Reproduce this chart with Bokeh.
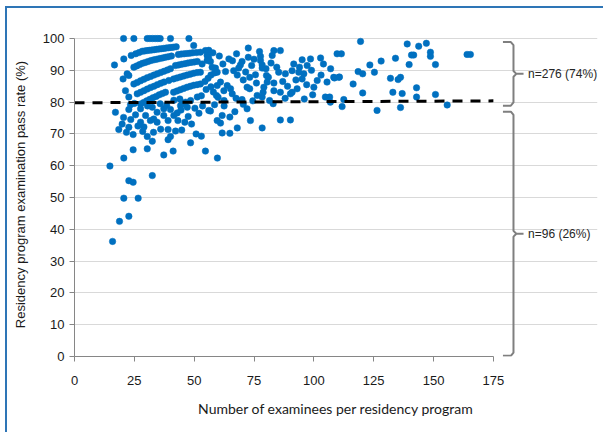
from bokeh.plotting import figure
from bokeh.models import Range1d, Label, FixedTicker
from bokeh.embed import file_html
from bokeh.resources import INLINE

# ---------------- data ----------------
x_perfect = [20.5, 24.8, 30.4, 31.5, 32.6, 33.7, 34.8, 35.8, 40.1, 47.8]
y_perfect = [100] * 10

x_band1 = [16.7, 20.6, 23.7, 25.6, 27.0, 28.3, 29.3, 30.3, 31.3, 32.3, 33.3, 34.3, 35.3, 36.3, 37.3, 38.3,
           39.3, 40.3, 41.3, 42.5, 49.8, 54.7, 56.1]
y_band1 = [91.7, 93.6, 94.7, 95.2, 95.6, 96.0, 96.1, 96.2, 96.3, 96.4, 96.5, 96.6, 96.7, 96.8, 96.9, 97.0,
           97.1, 97.2, 97.3, 97.4, 97.8, 96.2, 96.3]

x_band2 = [22.0, 24.8, 26.0, 27.2, 28.4, 29.6, 30.8, 32.0, 33.2, 34.4, 35.6, 36.8, 38.0, 39.2, 40.5, 43.4,
           44.6, 45.8, 47.0, 48.2, 49.4, 51.0, 52.6, 55.4, 56.0]
y_band2 = [88.9, 91.0, 91.4, 91.8, 92.2, 92.5, 92.8, 93.1, 93.3, 93.5, 93.7, 93.9, 94.1, 94.3, 94.5, 95.0,
           95.1, 95.2, 95.3, 95.4, 95.5, 95.6, 95.7, 94.7, 94.1]

x_band3 = [20.3, 22.7, 24.8, 26.2, 27.6, 29.0, 30.4, 31.8, 33.2, 34.6, 36.0, 37.4, 38.8, 40.1, 42.2, 43.5,
           44.8, 46.1, 47.4, 48.7, 50.0, 51.3, 53.3, 55.4]
y_band3 = [87.3, 88.4, 85.7, 86.2, 86.7, 87.2, 87.7, 88.1, 88.5, 88.9, 89.3, 89.7, 90.1, 90.5, 91.5, 91.7,
           91.9, 92.1, 92.3, 92.5, 92.6, 92.8, 92.0, 93.1]

x_band4 = [21.3, 26.2, 27.6, 29.0, 30.4, 31.8, 33.2, 34.6, 36.0, 37.4, 39.4, 41.4, 42.8, 44.2, 45.6, 47.0,
           48.4, 49.8, 51.2, 52.6]
y_band4 = [83.6, 82.6, 83.1, 83.6, 84.1, 84.6, 85.0, 85.5, 85.9, 86.3, 86.8, 87.3, 87.6, 87.9, 88.2, 88.5,
           88.8, 89.1, 89.3, 89.4]

x_band5 = [22.7, 23.4, 25.0, 27.6, 28.9, 30.2, 31.5, 32.8, 34.1, 35.4, 36.7, 38.0, 41.4, 42.8, 44.2, 45.6,
           47.0, 48.4, 49.8, 51.2, 52.6, 54.5, 55.8, 57.0, 58.5, 55.0, 57.0, 58.0]
y_band5 = [81.6, 79.2, 79.6, 79.4, 79.9, 80.4, 80.9, 81.4, 81.8, 82.3, 82.7, 83.1, 83.1, 83.5, 83.9, 84.3,
           84.7, 85.0, 85.3, 85.5, 85.7, 86.5, 87.5, 88.5, 89.2, 84.0, 84.8, 83.2]

x_mid = [56.8, 57.5, 58.9, 59.6, 64.5, 67.7, 72.6, 72.6, 77.3, 77.7, 77.7, 78.4, 78.4, 83.3, 82.6, 86.0,
         82.1, 69.3, 70.0, 68.6, 66.5, 63.1, 75.6, 73.2, 80.2, 80.5, 79.1, 83.3, 83.3, 85.3, 88.1, 91.6,
         95.1, 97.2, 98.6, 102.8, 90.9, 93.7, 95.8, 95.1, 93.0, 90.2, 100.0, 101.4, 105.5, 108.3, 110.4,
         61.0, 59.6, 62.4, 63.8, 65.2, 59.3, 65.9, 72.1, 73.2, 76.3, 78.4, 78.8, 86.0, 90.9, 104.8, 106.6,
         106.9]
y_mid = [92.8, 91.0, 90.7, 89.4, 93.6, 95.2, 97.0, 94.1, 95.9, 94.4, 93.1, 91.7, 90.7, 96.2, 94.7, 96.2,
         92.3, 91.7, 92.8, 90.7, 89.9, 89.6, 88.6, 87.8, 88.4, 86.3, 84.7, 86.0, 83.6, 89.4, 88.9, 92.0,
         93.3, 91.5, 93.6, 93.9, 89.9, 89.4, 88.9, 87.3, 84.2, 82.6, 84.7, 86.8, 86.3, 87.8, 87.8,
         86.3, 85.2, 83.6, 85.2, 84.2, 82.1, 82.6, 84.7, 84.2, 82.1, 81.6, 83.1, 83.1, 83.1, 81.6, 81.6,
         80.0]

x_mid2 = [57.8, 60.5, 62.0, 66.0, 68.0, 70.5, 71.5, 74.0, 75.0, 76.0, 80.0, 81.0, 84.5, 87.0, 89.0, 92.5,
          94.0, 97.0, 99.0, 103.0, 104.0, 107.0, 60.0, 62.5, 67.5, 70.0, 74.5, 81.5, 88.0, 96.0, 99.5,
          46.4, 48.5, 51.3, 53.0, 44.0, 41.5]
y_mid2 = [95.5, 94.5, 92.0, 93.0, 88.5, 87.0, 89.5, 91.5, 93.5, 86.0, 90.5, 87.8, 91.0, 86.5, 85.0, 87.0,
          91.0, 85.5, 90.0, 88.5, 92.0, 90.5, 81.5, 80.5, 81.2, 80.8, 80.4, 80.5, 81.2, 81.0, 82.3,
          80.0, 80.5, 81.6, 82.0, 81.0, 80.6]

x_right = [119.5, 109.7, 111.5, 139.0, 143.8, 147.0, 148.7, 148.7, 140.8, 141.7, 139.8, 150.8, 164.0, 165.4,
           134.1, 128.1, 123.4, 125.3, 118.5, 120.4, 108.6, 110.7, 132.0, 136.2, 135.2, 142.9, 116.4, 120.4,
           133.0, 136.9, 142.9, 150.8, 112.5]
y_right = [99.1, 95.2, 95.2, 98.3, 97.6, 98.5, 95.7, 94.4, 94.8, 94.8, 91.8, 91.8, 95.0, 95.0,
           93.8, 92.9, 91.7, 89.4, 89.6, 88.9, 87.6, 87.9, 87.5, 87.8, 87.1, 84.5, 85.7, 82.9,
           83.1, 82.7, 81.6, 82.4, 80.8]

x_low = [17.1, 22.7, 25.5, 27.6, 29.7, 27.6, 31.7, 33.1, 34.5, 34.5, 37.3, 40.1, 41.5, 42.9, 37.3, 39.1,
         43.2, 46.1, 48.9, 47.1, 50.3, 56.8, 32.5,
         19.9, 18.5, 22.7, 21.7, 24.5, 28.5, 30.4, 32.5,
         39.1, 42.2, 40.1, 39.1, 50.8, 53.0, 48.5,
         24.5, 30.4, 20.6, 14.8, 37.3, 41.2, 54.7, 59.7,
         22.7, 24.5, 32.5, 20.6, 26.6, 22.7, 18.8, 15.9,
         61.7, 64.9, 61.0, 61.7, 64.9, 68.0, 73.5, 78.4, 72.1, 86.0, 90.2, 59.6, 56.1, 44.3,
         111.8, 136.2, 155.7, 126.4,
         44.5, 38.5, 30.5, 35.8, 45.0, 52.0, 53.5, 26.5, 36.0, 44.8, 47.5, 20.5, 23.5, 29.0, 33.0,
         58.5, 62.5, 67.0, 70.5, 83.0]
y_low = [76.8, 77.7, 76.0, 77.9, 75.8, 73.7, 74.2, 74.7, 73.7, 76.8, 77.9, 77.7, 75.8, 76.6, 75.8, 74.2,
         74.2, 73.7, 73.1, 78.4, 78.1, 77.2, 78.4,
         73.1, 71.4, 72.1, 70.5, 69.8, 70.8, 69.2, 67.7,
         71.4, 70.9, 69.2, 68.2, 70.0, 69.3, 67.2,
         65.0, 65.3, 62.4, 59.9, 63.4, 64.6, 64.6, 62.4,
         55.3, 54.8, 56.9, 49.8, 49.8, 44.1, 42.5, 36.2,
         75.8, 75.3, 73.4, 70.3, 70.2, 71.9, 74.2, 71.9, 77.9, 74.4, 74.4, 74.2, 77.4, 78.9,
         78.6, 78.3, 79.1, 77.4,
         77.5, 79.0, 78.8, 79.5, 79.5, 76.5, 78.8, 72.5, 71.5, 71.2, 75.5, 75.2, 74.5, 72.2, 70.5,
         79.2, 78.8, 77.0, 79.3, 79.5]

x_ticks = [0, 25, 50, 75, 100, 125, 150, 175]
y_ticks = [0, 10, 20, 30, 40, 50, 60, 70, 80, 90, 100]
threshold_x = [0, 175]
threshold_y = [79.8, 80.4]
label_above = "n=276 (74%)"
label_below = "n=96 (26%)"

# ---------------- figure ----------------
p = figure(width=598, height=426, x_range=Range1d(0, 218.5), y_range=Range1d(0, 101.9),
           output_backend="svg", toolbar_location=None,
           min_border_left=67, min_border_right=8, min_border_top=24, min_border_bottom=78)
p.styles = {"margin-left": "5px", "margin-top": "6px",
            "border-left": "2px solid #2E75B6", "border-top": "2px solid #2E75B6"}
p.outline_line_color = None
p.background_fill_color = "white"
p.border_fill_color = "white"

xs = x_perfect + x_band1 + x_band2 + x_band3 + x_band4 + x_band5 + x_mid + x_mid2 + x_right + x_low
ys = y_perfect + y_band1 + y_band2 + y_band3 + y_band4 + y_band5 + y_mid + y_mid2 + y_right + y_low

# axes
ax = p.xaxis[0]
ax.ticker = FixedTicker(ticks=x_ticks)
ax.bounds = (0, 175)
ax.axis_label = "Number of examinees per residency program"
ax.axis_label_text_font = "Lato"
ax.axis_label_text_font_style = "normal"
ax.axis_label_text_font_size = "14px"
ax.axis_label_text_color = "#1a1a1a"
ax.axis_label_standoff = 12
ax.major_label_standoff = 14
ax.major_label_text_font = "Liberation Sans"
ax.major_label_text_font_size = "13px"
ax.major_label_text_color = "#1a1a1a"
ax.axis_line_color = "#868686"
ax.major_tick_line_color = "#868686"
ax.major_tick_out = 5
ax.major_tick_in = 0
ax.minor_tick_line_color = None

ay = p.yaxis[0]
ay.ticker = FixedTicker(ticks=y_ticks)
ay.bounds = (0, 100)
ay.axis_label = "Residency program examination pass rate (%)"
ay.axis_label_text_font = "Liberation Sans"
ay.axis_label_text_font_style = "normal"
ay.axis_label_text_font_size = "13px"
ay.axis_label_text_color = "#1a1a1a"
ay.axis_label_standoff = 12
ay.major_label_standoff = 5
ay.major_label_text_font = "Liberation Sans"
ay.major_label_text_font_size = "13px"
ay.major_label_text_color = "#1a1a1a"
ay.axis_line_color = "#868686"
ay.major_tick_line_color = "#868686"
ay.major_tick_out = 5
ay.major_tick_in = 0
ay.minor_tick_line_color = None

p.xgrid.visible = False
p.ygrid.ticker = FixedTicker(ticks=y_ticks)
p.ygrid.bounds = (0, 175)
p.ygrid.grid_line_color = "#D9D9D9"
p.ygrid.grid_line_width = 1

# scatter points
p.scatter(xs, ys, size=6.5, fill_color="#0070C0", line_color="#0070C0", line_width=0.5)

# threshold dashed line
p.line(threshold_x, threshold_y, line_color="black", line_width=3, line_dash="10 8")

# brackets
def bracket(top, bottom):
    mid = (top + bottom) / 2
    bx = [179.0, 182.3, 183.4, 183.4, 184.6, 187.6, 184.6, 183.4, 183.4, 182.3, 179.0]
    by = [top, top, top - 1.0, mid + 0.9, mid, mid, mid, mid - 0.9, bottom + 1.0, bottom, bottom]
    p.line(bx, by, line_color="#7F7F7F", line_width=2)
    return mid

m1 = bracket(98.9, 78.9)
m2 = bracket(77.0, 0.2)

p.add_layout(Label(x=189.5, y=m1, text=label_above, text_baseline="middle",
                   text_font="Liberation Sans", text_font_size="12px", text_color="#262626"))
p.add_layout(Label(x=189.5, y=m2, text=label_below, text_baseline="middle",
                   text_font="Liberation Sans", text_font_size="12px", text_color="#262626"))

open("out.html", "w").write(file_html(p, INLINE))
